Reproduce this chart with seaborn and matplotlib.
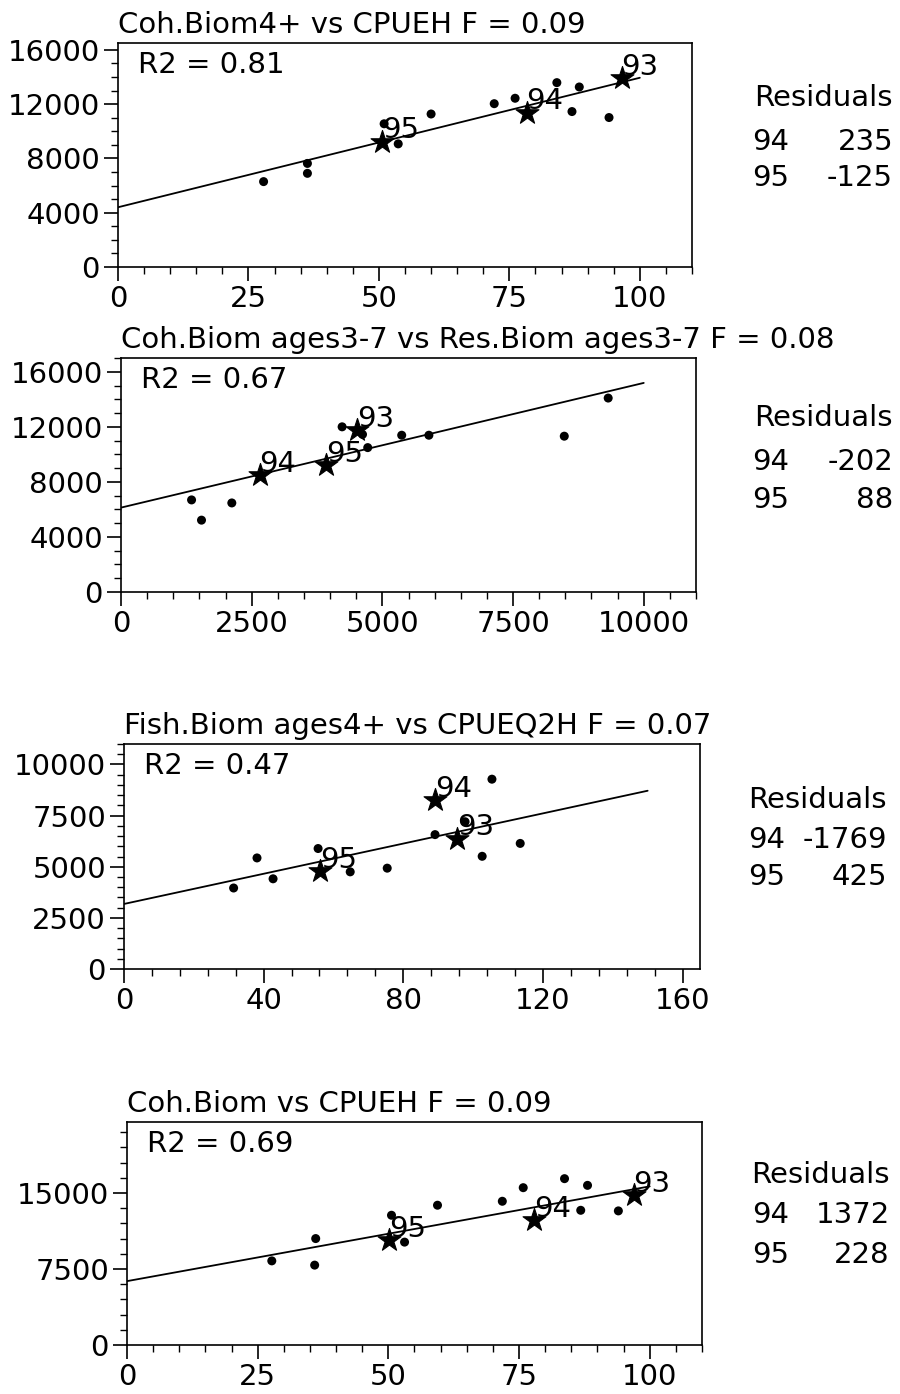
import numpy as np
import pandas as pd
import matplotlib
matplotlib.use("Agg")
import matplotlib.pyplot as plt
import seaborn as sns
from matplotlib.ticker import MultipleLocator

# ---------------- data ----------------
titles = ["Coh.Biom4+ vs CPUEH F = 0.09",
          "Coh.Biom ages3-7 vs Res.Biom ages3-7 F = 0.08",
          "Fish.Biom ages4+ vs CPUEQ2H F = 0.07",
          "Coh.Biom vs CPUEH F = 0.09"]
r2_labels = ["R2 = 0.81", "R2 = 0.67", "R2 = 0.47", "R2 = 0.69"]
star_years = ["93", "94", "95"]
resid_years = ["94", "95"]

# panel 1
p1_dot_x = [27.9, 36.3, 36.3, 51.0, 53.7, 60.0, 72.1, 76.1, 84.1, 87.0, 88.4, 94.1]
p1_dot_y = [6290, 6900, 7630, 10550, 9070, 11270, 12030, 12430, 13580, 11450, 13260, 11010]
p1_star_x = [96.5, 78.3, 50.6]
p1_star_y = [13940, 11370, 9240]
p1_line = [4400, 95.4, 100]          # intercept, slope, x end
p1_resid = ["235", "-125"]

# panel 2
p2_dot_x = [1350, 1540, 2120, 4230, 4620, 4720, 5370, 5890, 8480, 9320]
p2_dot_y = [6690, 5220, 6470, 12000, 11450, 10490, 11390, 11390, 11320, 14090]
p2_star_x = [4520, 2650, 3930]
p2_star_y = [11780, 8500, 9240]
p2_line = [6130, 0.906, 10000]
p2_resid = ["-202", "88"]

# panel 3
p3_dot_x = [31.4, 38.1, 42.7, 55.6, 64.8, 75.4, 89.1, 97.7, 102.6, 105.4, 113.5]
p3_dot_y = [3960, 5430, 4410, 5890, 4750, 4930, 6570, 7200, 5510, 9280, 6140]
p3_star_x = [95.4, 89.1, 56.2]
p3_star_y = [6380, 8260, 4780]
p3_line = [3180, 36.9, 150]
p3_resid = ["-1769", "425"]

# panel 4
p4_dot_x = [27.7, 36.1, 35.9, 50.6, 53.1, 59.4, 71.8, 75.8, 83.7, 86.8, 88.1, 94.0]
p4_dot_y = [8300, 10500, 7880, 12800, 10150, 13790, 14180, 15520, 16410, 13290, 15750, 13230]
p4_star_x = [96.9, 77.8, 50.2]
p4_star_y = [14770, 12310, 10340]
p4_line = [6300, 93.5, 100]
p4_resid = ["1372", "228"]

# ---------------- style ----------------
sns.set_theme(style="ticks")
FONT = ["DejaVu Sans"]
plt.rcParams["font.family"] = FONT
FS = 21

W, H = 900, 1394
fig = plt.figure(figsize=(W / 100, H / 100), dpi=100)

panels = [
    dict(dx=p1_dot_x, dy=p1_dot_y, sx=p1_star_x, sy=p1_star_y, line=p1_line, res=p1_resid,
         box=(118, 43, 692, 267), xlim=(0, 110), ylim=(0, 16500),
         xmaj=25, xmin=5, ymaj=4000, ymin=1000,
         res_right=893, res_y=(98, 142, 178), res_left=752),
    dict(dx=p2_dot_x, dy=p2_dot_y, sx=p2_star_x, sy=p2_star_y, line=p2_line, res=p2_resid,
         box=(121, 358, 696, 592), xlim=(0, 11000), ylim=(0, 17000),
         xmaj=2500, xmin=500, ymaj=4000, ymin=1000,
         res_right=893, res_y=(418, 462, 500), res_left=752),
    dict(dx=p3_dot_x, dy=p3_dot_y, sx=p3_star_x, sy=p3_star_y, line=p3_line, res=p3_resid,
         box=(124, 744, 700, 969), xlim=(0, 165), ylim=(0, 11000),
         xmaj=40, xmin=8, ymaj=2500, ymin=500,
         res_right=887, res_y=(800, 840, 877), res_left=748),
    dict(dx=p4_dot_x, dy=p4_dot_y, sx=p4_star_x, sy=p4_star_y, line=p4_line, res=p4_resid,
         box=(127, 1122, 702, 1345), xlim=(0, 110), ylim=(0, 22000),
         xmaj=25, xmin=5, ymaj=7500, ymin=1500,
         res_right=890, res_y=(1175, 1215, 1255), res_left=752),
]

for i, p in enumerate(panels):
    l, t, r, b = p["box"]
    ax = fig.add_axes([l / W, 1 - b / H, (r - l) / W, (b - t) / H])

    dots = pd.DataFrame({"x": p["dx"], "y": p["dy"]})
    stars = pd.DataFrame({"x": p["sx"], "y": p["sy"], "year": star_years})

    a, s, xe = p["line"]
    lx = np.array([0, xe], dtype=float)
    line = pd.DataFrame({"x": lx, "y": a + s * lx})
    sns.lineplot(data=line, x="x", y="y", ax=ax, color="black", lw=1.3, zorder=2)

    sns.scatterplot(data=dots, x="x", y="y", ax=ax, color="black", s=42,
                    edgecolor="none", zorder=3)
    sns.scatterplot(data=stars, x="x", y="y", ax=ax, color="black", marker="*",
                    s=300, edgecolor="black", linewidth=0.8, zorder=4)
    for _, row in stars.iterrows():
        ax.annotate(row["year"], (row["x"], row["y"]), xytext=(0, -2),
                    textcoords="offset points", ha="left", va="bottom",
                    fontsize=FS, color="black", zorder=5)

    ax.set_xlim(*p["xlim"])
    ax.set_ylim(*p["ylim"])
    ax.xaxis.set_major_locator(MultipleLocator(p["xmaj"]))
    ax.xaxis.set_minor_locator(MultipleLocator(p["xmin"]))
    ax.yaxis.set_major_locator(MultipleLocator(p["ymaj"]))
    ax.yaxis.set_minor_locator(MultipleLocator(p["ymin"]))
    ax.tick_params(axis="both", which="major", direction="out", length=10,
                   width=1.2, labelsize=FS, colors="black", pad=3)
    ax.tick_params(axis="both", which="minor", direction="out", length=5,
                   width=1.0, colors="black")
    ax.set_xlabel("")
    ax.set_ylabel("")
    for sp in ax.spines.values():
        sp.set_visible(True)
        sp.set_linewidth(1.2)
        sp.set_color("black")

    ax.set_title(titles[i], loc="left", fontsize=FS, pad=7, color="black")
    ax.text(0.035, 0.965, r2_labels[i], transform=ax.transAxes, ha="left",
            va="top", fontsize=FS, color="black")

    ry = p["res_y"]
    fig.text(p["res_right"] / W, 1 - ry[0] / H, "Residuals", ha="right",
             va="center", fontsize=FS, color="black")
    for k in range(2):
        fig.text(p["res_left"] / W, 1 - ry[k + 1] / H, resid_years[k],
                 ha="left", va="center", fontsize=FS, color="black")
        fig.text(p["res_right"] / W, 1 - ry[k + 1] / H, p["res"][k],
                 ha="right", va="center", fontsize=FS, color="black")

fig.savefig("out.png", dpi=100, facecolor="white")
